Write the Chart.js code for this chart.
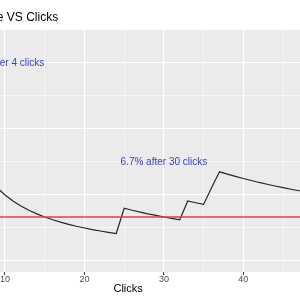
<!DOCTYPE html>
<html><head><meta charset="utf-8">
<script src="https://cdn.jsdelivr.net/npm/chart.js@4"></script>
<style>
html,body{margin:0;padding:0;width:300px;height:300px;overflow:hidden;background:#fff}
#wrap{position:absolute;left:-140px;top:0;width:500px;height:300px}
</style></head><body>
<div id="wrap"><canvas id="c"></canvas></div>
<script>
const chartTitle = 'Conversion Rate VS Clicks';
const xTitle = 'Clicks';
const clicks = [1,2,3,4,5,6,7,8,9,10,11,12,13,14,15,16,17,18,19,20,21,22,23,24,25,26,27,28,29,30,31,32,33,34,35,36,37,38,39,40,41,42,43,44,45,46,47,48,49,50];
const rate = [0,0,0.3333,0.25,0.2,0.1667,0.1429,0.125,0.1111,0.1,0.0909,0.0833,0.0769,0.0714,0.0667,0.0625,0.0588,0.0556,0.0526,0.05,0.0476,0.0455,0.0435,0.0417,0.08,0.0769,0.0741,0.0714,0.069,0.0667,0.0645,0.0625,0.0909,0.0882,0.0857,0.1111,0.1351,0.1316,0.1282,0.125,0.122,0.119,0.1163,0.1136,0.1111,0.1087,0.1064,0.1042,0.102,0.1];
const targetRate = 0.0667;
const xTickValues = [0,5,10,15,20,25,30,35,40,45,50];
const yTickValues = [0,0.05,0.1,0.15,0.2,0.25,0.3];
const noteTexts = ['25% after 4 clicks','6.7% after 30 clicks'];
const noteX = [10,30];
const noteY = [0.3,0.15];

const X_MIN = -1.45, X_MAX = 52.45, Y_MIN = -0.01667, Y_MAX = 0.35;
const FONT = "'Liberation Sans', Arial, sans-serif";

const isMajorX = v => Math.abs(v % 10) < 1e-9;
const isMajorY = v => Math.abs((v * 100) % 10) < 1e-6;

const panelBg = {
  id: 'panelBg',
  beforeDraw(chart) {
    const {ctx, chartArea: a} = chart;
    ctx.save();
    ctx.fillStyle = '#EBEBEB';
    ctx.fillRect(a.left, a.top, a.right - a.left, a.bottom - a.top);
    ctx.restore();
  }
};
const notes = {
  id: 'notes',
  afterDatasetsDraw(chart) {
    const {ctx, scales} = chart;
    ctx.save();
    ctx.font = '10px ' + FONT;
    ctx.fillStyle = '#3A3ACF';
    ctx.textAlign = 'center';
    ctx.textBaseline = 'middle';
    noteTexts.forEach((t, i) => {
      ctx.fillText(t, scales.x.getPixelForValue(noteX[i]), scales.y.getPixelForValue(noteY[i]));
    });
    ctx.restore();
  }
};

new Chart(document.getElementById('c'), {
  type: 'line',
  data: {
    datasets: [
      {
        data: clicks.map((c, i) => ({x: c, y: rate[i]})),
        borderColor: '#262626', borderWidth: 1.2, pointRadius: 0, tension: 0, order: 1
      },
      {
        data: [{x: X_MIN, y: targetRate}, {x: X_MAX, y: targetRate}],
        borderColor: '#F03A3A', borderWidth: 1.3, pointRadius: 0, order: 0
      }
    ]
  },
  options: {
    responsive: true, maintainAspectRatio: false, animation: false,
    layout: {padding: {left: 54.1, right: 17.8, top: 0, bottom: 0}},
    plugins: {
      legend: {display: false}, tooltip: {enabled: false},
      title: {
        display: true, text: chartTitle, align: 'start', color: '#000',
        font: {family: FONT, size: 12, weight: 'normal', lineHeight: 1.2},
        padding: {top: 10.8, bottom: 4.8}
      }
    },
    scales: {
      x: {
        type: 'linear', min: X_MIN, max: X_MAX,
        afterBuildTicks: s => { s.ticks = xTickValues.map(v => ({value: v})); },
        ticks: {
          autoSkip: false, maxRotation: 0, padding: 0, color: '#4D4D4D',
          font: {family: FONT, size: 9, lineHeight: 1},
          callback: v => isMajorX(v) ? String(v) : ''
        },
        grid: {
          color: '#FFFFFF',
          lineWidth: c => (c.tick && isMajorX(c.tick.value)) ? 1.1 : 0.55,
          tickColor: c => (c.tick && isMajorX(c.tick.value)) ? '#333333' : 'rgba(0,0,0,0)',
          tickLength: 3, tickWidth: 1
        },
        border: {display: false},
        title: {display: true, text: xTitle, color: '#000',
          font: {family: FONT, size: 11, lineHeight: 1}, padding: {top: -0.5, bottom: 5.5}}
      },
      y: {
        type: 'linear', min: Y_MIN, max: Y_MAX,
        afterBuildTicks: s => { s.ticks = yTickValues.map(v => ({value: v})); },
        ticks: {display: false},
        grid: {
          color: '#FFFFFF', drawTicks: false,
          lineWidth: c => (c.tick && isMajorY(c.tick.value)) ? 1.1 : 0.55
        },
        border: {display: false}
      }
    }
  },
  plugins: [panelBg, notes]
});
</script>
</body></html>
